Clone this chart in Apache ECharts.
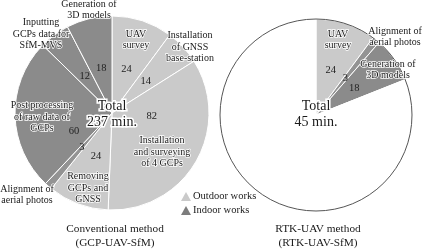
<!DOCTYPE html>
<html>
<head>
<meta charset="UTF-8">
<title>Working time</title>
<script src="https://cdn.jsdelivr.net/npm/echarts@6/dist/echarts.min.js"></script>
<style>
html, body { margin: 0; padding: 0; background: #fff; }
#main { width: 423px; height: 251px; }
</style>
</head>
<body>
<div id="main"></div>
<script>
// conventional method, slices clockwise from 12 o'clock (minutes)
var convNames = ['UAV\nsurvey', 'Installation\nof GNSS\nbase-station', 'Installation\nand surveying\nof 4 GCPs',
	'Removing\nGCPs and\nGNSS', 'Alignment of\naerial photos', 'Post processing\nof raw data of\nGCPs',
	'Inputting\nGCPs data for\nSfM-MVS', 'Generation of\n3D models'];
var convValues = [24, 14, 82, 24, 3, 60, 12, 18];
var convKind = ['out', 'out', 'out', 'out', 'align', 'in', 'in', 'in'];

// RTK method (drawn on the same scale as the conventional one)
var rtkNames = ['UAV\nsurvey', 'Alignment of\naerial photos', 'Generation of\n3D models'];
var rtkValues = [24, 3, 18];
var rtkKind = ['out', 'align', 'in'];

var totalTexts = ['Total\n237 min.', 'Total\n45 min.'];
var methodTitles = ['Conventional method\n(GCP-UAV-SfM)', 'RTK-UAV method\n(RTK-UAV-SfM)'];
var legendNames = ['Outdoor works', 'Indoor works'];

// layout of the name annotations (px)
var convNamePos = [[136, 40], [190, 47], [162, 152], [88, 188], [27, 195], [42, 117], [41, 34], [89, 10]];
var rtkNamePos = [[338, 40], [395, 37], [388, 70]];

var FONT = '"Liberation Serif", "Times New Roman", serif';
var colors = { out: '#cacaca', align: '#939393', in: '#8b8b8b' };
var legendColors = ['#cacaca', '#7d7d7d'];

var convTotal = 0;
convValues.forEach(function (v) { convTotal += v; });
var rtkSum = 0;
rtkValues.forEach(function (v) { rtkSum += v; });

function slices(values, kinds, names) {
	return values.map(function (v, i) {
		return { name: names[i].replace(/\n/g, ' '), value: v, itemStyle: { color: colors[kinds[i]] } };
	});
}

var convData = slices(convValues, convKind, convNames);
var rtkData = slices(rtkValues, rtkKind, rtkNames);
// empty remainder so the wedge keeps the scale of the left pie
rtkData.push({ name: 'rest', value: convTotal - rtkSum, itemStyle: { color: '#fff' }, label: { show: false } });

var numLabel = { show: true, position: 'inside', formatter: '{c}', fontFamily: FONT, fontSize: 10.5, color: '#222' };

var graphics = [];
function addText(text, x, y, size, lh, halo) {
	graphics.push({
		type: 'text', x: x, y: y, z: 100, silent: true,
		style: {
			text: text, font: size + 'px ' + FONT, fill: '#1a1a1a',
			align: 'center', verticalAlign: 'middle', lineHeight: lh,
			stroke: halo ? '#fff' : null, lineWidth: halo || 0
		}
	});
}
convNames.forEach(function (n, i) { addText(n, convNamePos[i][0], convNamePos[i][1], 10, 11.5, 1.5); });
rtkNames.forEach(function (n, i) { addText(n, rtkNamePos[i][0], rtkNamePos[i][1], 10, 11.5, 1.5); });
addText(totalTexts[0], 112, 114, 14, 16, 3);
addText(totalTexts[1], 316, 114, 14, 16, 3);
addText(methodTitles[0], 115, 236, 11.3, 14, 0);
addText(methodTitles[1], 318, 236, 11.3, 14, 0);

var myChart = echarts.init(document.getElementById('main'));

var option = {
	animation: false,
	legend: {
		data: legendNames,
		orient: 'vertical',
		left: 176, top: 186,
		icon: 'triangle',
		itemWidth: 10, itemHeight: 9, itemGap: 3,
		textStyle: { fontFamily: FONT, fontSize: 10.5, color: '#1a1a1a', padding: [0, 0, 0, -3] }
	},
	series: [
		{
			// left pie
			type: 'pie', center: [112, 113], radius: 97, startAngle: 90, clockwise: true,
			silent: true, label: { show: false }, labelLine: { show: false },
			itemStyle: { borderColor: '#fff', borderWidth: 1 },
			data: convData
		},
		{
			// values of the left pie
			type: 'pie', center: [112, 113], radius: 86, startAngle: 90, clockwise: true,
			silent: true, label: numLabel, labelLine: { show: false },
			itemStyle: { color: 'transparent' },
			data: convValues.map(function (v) { return { value: v }; }),
			labelLayout: function (p) {
				if (p.dataIndex === 2) return { dy: -20 };
				if (p.dataIndex === 5) return { dx: 8, dy: 17 };
			}
		},
		{
			// right pie
			type: 'pie', center: [316, 115], radius: 96, startAngle: 90, clockwise: true,
			silent: true, label: { show: false }, labelLine: { show: false },
			itemStyle: { borderColor: '#fff', borderWidth: 1 },
			data: rtkData
		},
		{
			type: 'pie', center: [316, 115], radius: 88, startAngle: 90, clockwise: true,
			silent: true, label: numLabel, labelLine: { show: false },
			itemStyle: { color: 'transparent' },
			data: rtkValues.map(function (v) { return { value: v }; })
				.concat([{ value: convTotal - rtkSum, label: { show: false } }])
		},
		{
			// outline of the right circle
			type: 'pie', center: [316, 115], radius: 96, silent: true,
			label: { show: false }, labelLine: { show: false },
			itemStyle: { color: 'transparent', borderColor: '#555', borderWidth: 1 },
			data: [{ value: 1 }]
		},
		{
			// legend entries only
			type: 'pie', center: [0, 0], radius: 0, silent: true,
			label: { show: false }, labelLine: { show: false },
			data: legendNames.map(function (n, i) { return { name: n, value: 1, itemStyle: { color: legendColors[i] } }; })
		}
	],
	graphic: graphics
};

myChart.setOption(option);
</script>
</body>
</html>
